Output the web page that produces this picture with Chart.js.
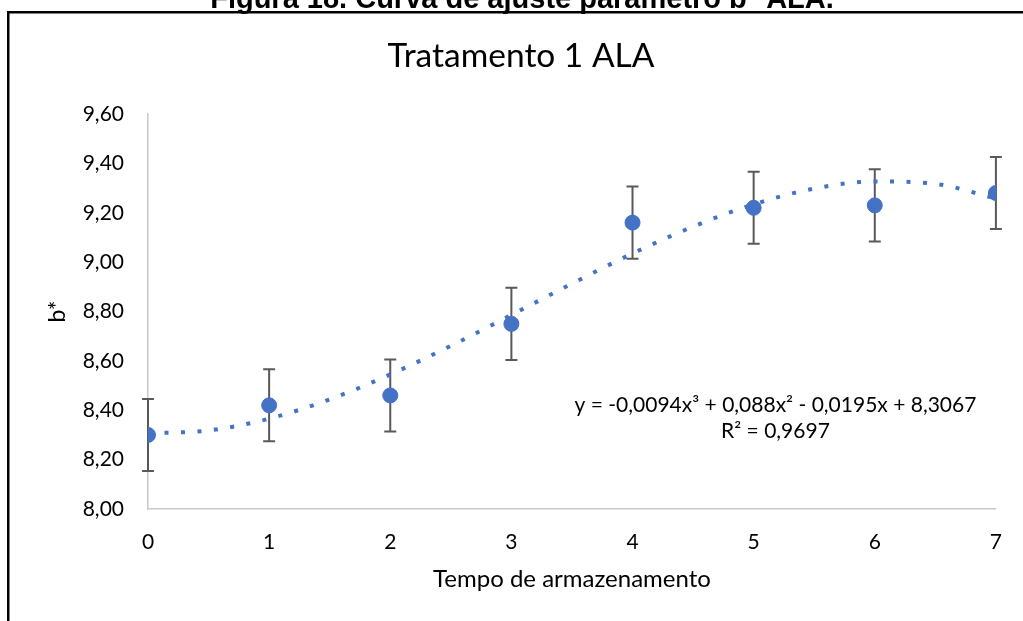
<!DOCTYPE html>
<html lang="pt">
<head>
    <meta charset="UTF-8">
    <title>Tratamento 1 ALA</title>
    <script src="https://cdn.jsdelivr.net/npm/chart.js"></script>
    <style>
        body {
            margin: 0;
            background-color: #ffffff;
        }
        .chart-container {
            position: relative;
            width: 1023px;
            height: 621px;
        }
    </style>
</head>
<body>
    <div class="chart-container">
        <canvas id="alaChart"></canvas>
    </div>

    <script>
        // dados
        const tempo = [0, 1, 2, 3, 4, 5, 6, 7];
        const bValues = [8.30, 8.42, 8.46, 8.75, 9.16, 9.22, 9.23, 9.28];
        const bErrors = [0.146, 0.146, 0.146, 0.146, 0.146, 0.146, 0.146, 0.146];

        // linha de tendência (polinomial, ordem 3) lida a cada meia unidade
        const trendX = [0, 0.5, 1, 1.5, 2, 2.5, 3, 3.5, 4, 4.5, 5, 5.5, 6, 6.5, 7];
        const trendY = [8.307, 8.318, 8.366, 8.444, 8.545, 8.661, 8.786, 8.913, 9.035, 9.144, 9.234, 9.298, 9.327, 9.317, 9.258];

        const yTicks = [8.0, 8.2, 8.4, 8.6, 8.8, 9.0, 9.2, 9.4, 9.6];

        const caption = 'Figura 18. Curva de ajuste parâmetro b* ALA.';
        const chartTitle = 'Tratamento 1 ALA';
        const equationLines = ['y = -0,0094x³ + 0,088x² - 0,0195x + 8,3067', 'R² = 0,9697'];

        const blue = '#4472C4';
        const fontFamily = 'Lato, "Noto Sans", sans-serif';

        // moldura, legenda da figura e título
        const framePlugin = {
            id: 'frame',
            beforeDraw(chart) {
                const ctx = chart.ctx;
                ctx.save();
                ctx.fillStyle = '#ffffff';
                ctx.fillRect(0, 0, chart.width, chart.height);
                ctx.fillStyle = '#000000';
                ctx.font = 'bold 29px "Liberation Sans", Arial, sans-serif';
                ctx.textAlign = 'center';
                ctx.textBaseline = 'alphabetic';
                ctx.fillText(caption, 522, 8);
                ctx.fillRect(7, 11, chart.width - 7, 2.5);
                ctx.fillRect(7, 11, 2.5, chart.height - 11);

                ctx.font = '33.5px ' + fontFamily;
                ctx.textBaseline = 'middle';
                ctx.fillText(chartTitle, 521, 56);
                ctx.restore();
            }
        };

        // barras de erro desenhadas com as escalas do gráfico
        const errorBarPlugin = {
            id: 'errorBars',
            beforeDatasetsDraw(chart) {
                const ctx = chart.ctx;
                const xs = chart.scales.x;
                const ys = chart.scales.y;
                ctx.save();
                ctx.strokeStyle = '#595959';
                ctx.lineWidth = 2;
                tempo.forEach((t, i) => {
                    const x = xs.getPixelForValue(t);
                    const top = ys.getPixelForValue(bValues[i] + bErrors[i]);
                    const bottom = ys.getPixelForValue(bValues[i] - bErrors[i]);
                    ctx.beginPath();
                    ctx.moveTo(x, top);
                    ctx.lineTo(x, bottom);
                    ctx.moveTo(x - 6, top);
                    ctx.lineTo(x + 6, top);
                    ctx.moveTo(x - 6, bottom);
                    ctx.lineTo(x + 6, bottom);
                    ctx.stroke();
                });
                ctx.restore();
            },
            afterDraw(chart) {
                const ctx = chart.ctx;
                const area = chart.chartArea;
                ctx.save();
                ctx.fillStyle = '#000000';
                ctx.font = '21px ' + fontFamily;
                ctx.textAlign = 'center';
                ctx.textBaseline = 'middle';
                const cx = area.left + (area.right - area.left) * 0.74;
                ctx.fillText(equationLines[0], cx, area.top + 291);
                ctx.fillText(equationLines[1], cx, area.top + 317);
                ctx.restore();
            }
        };

        const ctx = document.getElementById('alaChart').getContext('2d');

        new Chart(ctx, {
            type: 'scatter',
            data: {
                datasets: [{
                    label: 'b*',
                    data: tempo.map((t, i) => ({ x: t, y: bValues[i] })),
                    backgroundColor: blue,
                    borderColor: blue,
                    pointRadius: 7.5,
                    pointHoverRadius: 7.5,
                    borderWidth: 1,
                    order: 0
                }, {
                    label: 'Polinomial',
                    data: trendX.map((t, i) => ({ x: t, y: trendY[i] })),
                    showLine: true,
                    borderColor: blue,
                    borderWidth: 4,
                    borderDash: [4, 12.5],
                    borderCapStyle: 'butt',
                    pointRadius: 0,
                    cubicInterpolationMode: 'monotone',
                    order: 1
                }]
            },
            options: {
                responsive: true,
                maintainAspectRatio: false,
                animation: false,
                layout: {
                    padding: { top: 114, left: 0, right: 23, bottom: 0 }
                },
                plugins: {
                    legend: { display: false },
                    tooltip: { enabled: false },
                    title: { display: false }
                },
                scales: {
                    x: {
                        type: 'linear',
                        min: 0,
                        max: 7,
                        afterFit: scale => { scale.height = 112; },
                        grid: { display: false, drawTicks: false },
                        border: { display: true, color: '#C8C8C8', width: 1.5 },
                        ticks: {
                            stepSize: 1,
                            color: '#000000',
                            padding: 21,
                            font: { family: fontFamily, size: 21 }
                        },
                        title: {
                            display: true,
                            text: 'Tempo de armazenamento',
                            color: '#000000',
                            font: { family: fontFamily, size: 24, lineHeight: 1.2 },
                            padding: { top: 0, bottom: 27 }
                        }
                    },
                    y: {
                        min: 8,
                        max: 9.6,
                        afterFit: scale => { scale.width = 148; },
                        afterBuildTicks: scale => { scale.ticks = yTicks.map(v => ({ value: v })); },
                        grid: { display: false, drawTicks: false },
                        border: { display: true, color: '#C8C8C8', width: 1.5 },
                        ticks: {
                            color: '#000000',
                            padding: 24,
                            font: { family: fontFamily, size: 21 },
                            callback: value => value.toFixed(2).replace('.', ',')
                        },
                        title: {
                            display: true,
                            text: 'b*',
                            color: '#000000',
                            font: { family: fontFamily, size: 23, lineHeight: 1.2 },
                            padding: { top: 44, bottom: 0 }
                        }
                    }
                }
            },
            plugins: [framePlugin, errorBarPlugin]
        });
    </script>
</body>
</html>
